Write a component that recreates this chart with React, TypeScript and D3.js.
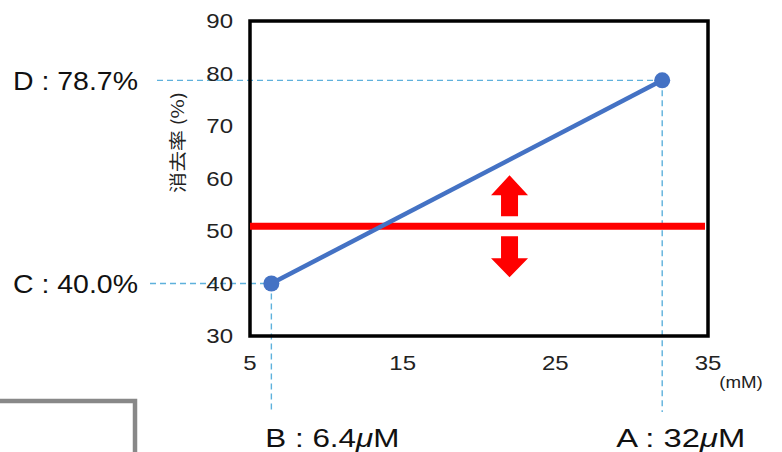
import React from "react";
import * as d3 from "d3";

const xTicks = [5, 15, 25, 35];
const yTicks = [30, 40, 50, 60, 70, 80, 90];
const concentrations = [6.4, 32];
const removalRates = [40.0, 78.7];
const threshold = 50.9;
const arrowAt = 22;
const pointLabelsY = ["C : 40.0%", "D : 78.7%"];
const pointLabelsX = ["B : 6.4", "A : 32"];
const unitX = "(mM)";
const titleY = "消去率 (%)";

const W = 782;
const H = 452;
const m = { left: 250, right: 708, top: 21, bottom: 336 };

export default function App() {
  const x = d3.scaleLinear().domain([5, 35]).range([m.left, m.right]);
  const y = d3.scaleLinear().domain([30, 90]).range([m.bottom, m.top]);
  const line = d3
    .line<number>()
    .x((_, i) => x(concentrations[i]))
    .y((d) => y(d));
  const dashColor = "#5eb1dc";
  const font = "Arial, 'Liberation Sans', sans-serif";
  const ax = x(arrowAt);
  const ty = y(threshold);
  const upArrow = `M${ax},${ty - 51} L${ax + 18.5},${ty - 31} L${ax + 8.5},${ty - 31} L${ax + 8.5},${ty - 10} L${ax - 8.5},${ty - 10} L${ax - 8.5},${ty - 31} L${ax - 18.5},${ty - 31} Z`;
  const downArrow = `M${ax},${ty + 51} L${ax + 18.5},${ty + 32} L${ax + 8.5},${ty + 32} L${ax + 8.5},${ty + 10} L${ax - 8.5},${ty + 10} L${ax - 8.5},${ty + 32} L${ax - 18.5},${ty + 32} Z`;
  const xLabelStart = [x(concentrations[0]) - 6, x(concentrations[1]) - 46];
  const xLabelLen = [134, 129];

  return (
    <svg
      width={W}
      height={H}
      style={{ position: "absolute", left: 0, top: 0, background: "#fff" }}
      fontFamily={font}
    >
      {/* dashed guide lines */}
      {concentrations.map((c, i) => (
        <g key={"g" + i}>
          <line
            x1={i === 0 ? 150 : 157}
            x2={x(c)}
            y1={y(removalRates[i])}
            y2={y(removalRates[i])}
            stroke={dashColor}
            strokeWidth={1.4}
            strokeDasharray="6,4"
          />
          <line
            x1={x(c)}
            x2={x(c)}
            y1={y(removalRates[i])}
            y2={412}
            stroke={dashColor}
            strokeWidth={1.4}
            strokeDasharray="6,4"
          />
        </g>
      ))}
      {/* frame */}
      <rect
        x={m.left}
        y={m.top}
        width={m.right - m.left}
        height={m.bottom - m.top}
        fill="none"
        stroke="#000"
        strokeWidth={3.5}
      />
      {/* threshold */}
      <line
        x1={m.left}
        x2={m.right - 3}
        y1={ty}
        y2={ty}
        stroke="#ff0000"
        strokeWidth={7}
      />
      <path d={upArrow} fill="#ff0000" />
      <path d={downArrow} fill="#ff0000" />
      {/* data line */}
      <path d={line(removalRates) || ""} fill="none" stroke="#4472c4" strokeWidth={4.5} />
      {removalRates.map((r, i) => (
        <circle key={"c" + i} cx={x(concentrations[i])} cy={y(r)} r={8} fill="#4472c4" />
      ))}
      {/* y ticks */}
      {yTicks.map((t) => (
        <g key={"y" + t} transform={`translate(233,${y(t)}) scale(1.2,1)`}>
          <text x={0} y={0} dy="0.36em" textAnchor="end" fontSize={20} fill="#222">
            {t}
          </text>
        </g>
      ))}
      {/* x ticks */}
      {xTicks.map((t) => (
        <g key={"x" + t} transform={`translate(${x(t)},370) scale(1.2,1)`}>
          <text x={0} y={0} textAnchor="middle" fontSize={20} fill="#222">
            {t}
          </text>
        </g>
      ))}
      <g transform="translate(741,388) scale(1.1,1)">
        <text x={0} y={0} textAnchor="middle" fontSize={17} fill="#222">
          {unitX}
        </text>
      </g>
      {/* y axis label */}
      <text
        transform={`translate(184,142.5) rotate(-90)`}
        textAnchor="middle"
        fontSize={17}
        fill="#222"
        textLength={101}
        lengthAdjust="spacingAndGlyphs"
        fontFamily="'Noto Sans CJK JP', sans-serif"
      >
        {titleY}
      </text>
      {/* point labels */}
      {pointLabelsY.map((l, i) => (
        <text
          key={"ly" + i}
          x={13}
          y={y(removalRates[i])}
          dy="0.36em"
          fontSize={26}
          fill="#111"
          textLength={125}
          lengthAdjust="spacingAndGlyphs"
        >
          {l}
        </text>
      ))}
      {pointLabelsX.map((l, i) => (
        <text
          key={"lx" + i}
          x={xLabelStart[i]}
          y={447}
          fontSize={25}
          fill="#111"
          textLength={xLabelLen[i]}
          lengthAdjust="spacingAndGlyphs"
        >
          {l}
          <tspan fontStyle="italic">μ</tspan>M
        </text>
      ))}
      {/* gray box at bottom left */}
      <rect x={-10} y={401} width={145} height={80} fill="none" stroke="#888" strokeWidth={4.5} />
    </svg>
  );
}
